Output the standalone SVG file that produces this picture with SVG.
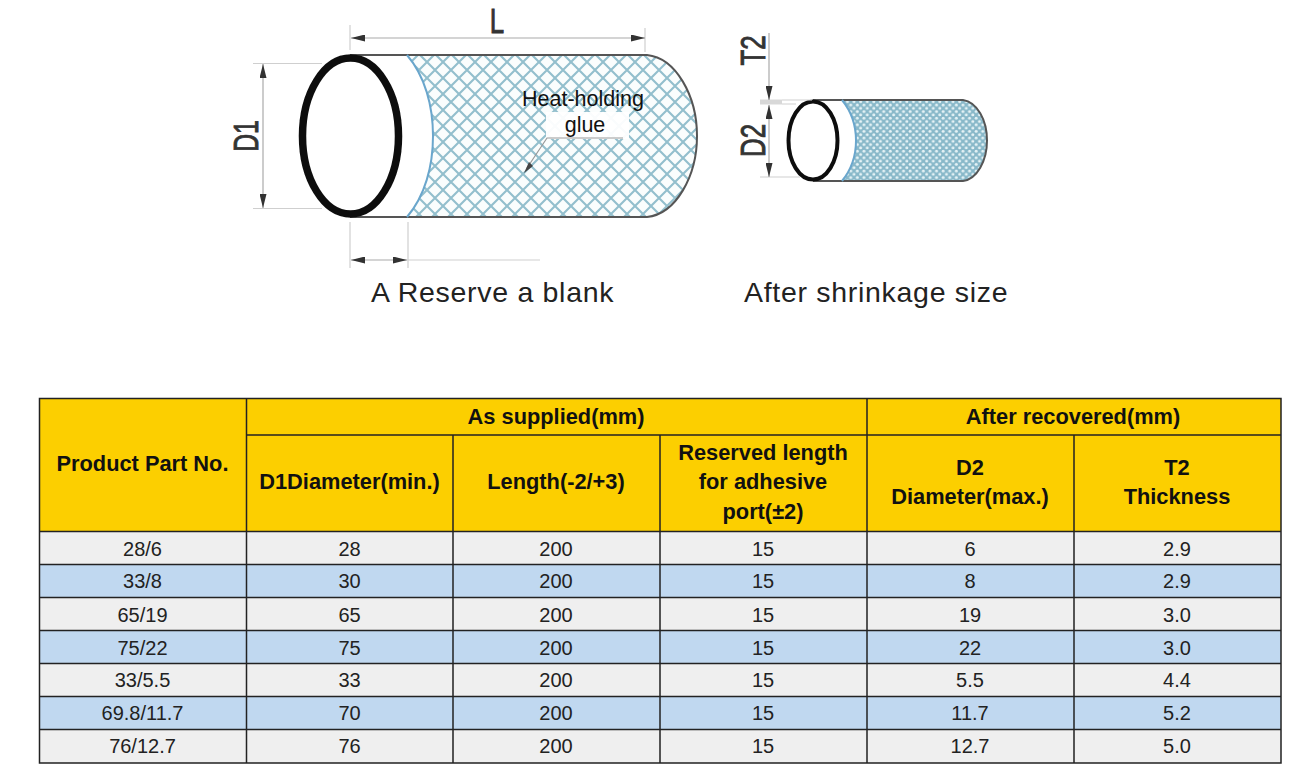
<svg xmlns="http://www.w3.org/2000/svg" width="1293" height="769" viewBox="0 0 1293 769">
<style>
text{font-family:"Liberation Sans",Arial,sans-serif;fill:#111}
.h{font-size:21.8px;font-weight:bold;text-anchor:middle}
.c{font-size:20px;text-anchor:middle;fill:#222}
.cap{font-size:28.5px;letter-spacing:.7px;fill:#222}
.dim{font-size:36px;fill:#333;stroke:#333;stroke-width:.9;text-anchor:middle}
.dl{stroke:#aaa;stroke-width:1.2;fill:none}
.gl{stroke:#cfcfcf;stroke-width:1.2;fill:none}
.y{fill:#fccf00}.g{fill:#efefef}.b{fill:#c0d8f0}
.grid{stroke:#222;stroke-width:1.5;fill:none}
.out{stroke:#555;stroke-width:2;fill:none}
.curve{stroke:#6aa6cc;stroke-width:2;fill:none}
</style>
<defs>
<pattern id="mesh" width="16" height="16" patternUnits="userSpaceOnUse" x="427" y="62">
<rect width="16" height="16" fill="#fafdfd"/>
<path d="M-1 1L1 -1M0 16L16 0M15 17L17 15M-1 15L1 17M0 0L16 16M15 -1L17 1" stroke="#93bfcd" stroke-width="2.100"/>
</pattern>
<pattern id="fine" width="6.600" height="6.600" patternUnits="userSpaceOnUse" x="1" y="1">
<rect width="6.600" height="6.600" fill="#88b8c9"/>
<circle cx="1.650" cy="1.650" r="1.500" fill="#e6f3f6"/>
<circle cx="4.950" cy="4.950" r="1.500" fill="#e6f3f6"/>
</pattern>
<marker id="ah" viewBox="0 0 14 7" refX="14" refY="3.500" markerWidth="14" markerHeight="7" markerUnits="userSpaceOnUse" orient="auto-start-reverse"><path d="M0 0L14 3.500L0 7Z" fill="#333"/></marker>
<filter id="soft" x="-5%" y="-5%" width="110%" height="110%"><feGaussianBlur stdDeviation="0.7"/></filter>
</defs>

<g id="tube-large" filter="url(#soft)">
<path d="M407 55H647C676 58 697 96 697 136C697 176 676 214 647 217H407C425 196 433 166 433 136C433 106 425 76 407 55Z" fill="url(#mesh)"/>
<path class="out" d="M350 55H647C676 58 697 96 697 136C697 176 676 214 647 217H350"/>
<path class="curve" d="M407 55C425 76 433 106 433 136C433 166 425 196 407 217"/>
<ellipse cx="350.500" cy="136" rx="48" ry="78" fill="#fff" stroke="#111" stroke-width="7.500"/>
<g id="dim-large">
<path class="gl" d="M350 25V50M645 28V52M253 63.500H322M253 208.500H322M350 222V268M408 222V268"/>
<path class="dl" d="M351 38H645" marker-start="url(#ah)" marker-end="url(#ah)"/>
<path class="dl" d="M263 64V208" marker-start="url(#ah)" marker-end="url(#ah)"/>
<path class="dl" d="M351 260H407" marker-start="url(#ah)" marker-end="url(#ah)"/>
<path class="gl" d="M407 260H540"/>
</g>
</g>
<text class="dim" transform="translate(497 33) scale(.72 1)">L</text>
<text class="dim" transform="translate(258 136) rotate(-90) scale(.69 1)">D1</text>
<g id="label-glue">
<rect x="546" y="112" width="83" height="27" fill="#fff" opacity=".95"/>
<path d="M623 138H547L527 168" fill="none" stroke="#999" stroke-width="1.200"/>
<path d="M529 162L524 173L533 166Z" fill="#444"/>
<text x="583" y="106" font-size="21.500" text-anchor="middle">Heat-holding</text>
<text x="585" y="132" font-size="21.500" text-anchor="middle">glue</text>
</g>

<g id="tube-small" filter="url(#soft)">
<path d="M842 100H963C977 102 987 120 987 140.500C987 161 977 179 963 181H842C851 170 856 155 856 140.500C856 126 851 111 842 100Z" fill="url(#fine)"/>
<path class="out" d="M813 100H963C977 102 987 120 987 140.500C987 161 977 179 963 181H813"/>
<path class="curve" d="M842 100C851 111 856 126 856 140.500C856 155 851 170 842 181"/>
<ellipse cx="813" cy="140.500" rx="24.500" ry="39" fill="#fff" stroke="#111" stroke-width="4"/>
<g id="dim-small">
<path d="M760 102H782" stroke="#d8d8d8" stroke-width="5" fill="none"/>
<path class="gl" d="M782 100H812M782 104H796M760 177H800"/>
<path class="dl" d="M769 33V100" marker-end="url(#ah)"/>
<path class="dl" d="M769 105V177" marker-start="url(#ah)" marker-end="url(#ah)"/>
</g>
</g>
<text class="dim" transform="translate(765 50.500) rotate(-90) scale(.72 1)">T2</text>
<text class="dim" transform="translate(765 140.500) rotate(-90) scale(.72 1)">D2</text>

<text class="cap" x="371" y="302">A Reserve a blank</text>
<text class="cap" x="744" y="302">After shrinkage size</text>

<g id="table">
<rect class="y" x="39.500" y="398.500" width="1241.500" height="133"/>
<rect class="g" x="39.500" y="531.500" width="1241.500" height="33"/>
<rect class="b" x="39.500" y="564.500" width="1241.500" height="33"/>
<rect class="g" x="39.500" y="597.500" width="1241.500" height="33"/>
<rect class="b" x="39.500" y="630.500" width="1241.500" height="33"/>
<rect class="g" x="39.500" y="663.500" width="1241.500" height="33"/>
<rect class="b" x="39.500" y="696.500" width="1241.500" height="33"/>
<rect class="g" x="39.500" y="729.500" width="1241.500" height="33.500"/>
<path class="grid" d="M39.500 398.500H1281V763H39.500ZM246.500 398.500V763M453 435V763M660 435V763M867 398.500V763M1074 435V763M246.500 435H1281M39.500 531.500H1281M39.500 564.500H1281M39.500 597.500H1281M39.500 630.500H1281M39.500 663.500H1281M39.500 696.500H1281M39.500 729.500H1281"/>
<text class="h" x="142.500" y="470.500">Product Part No.</text>
<text class="h" x="556" y="423.500">As supplied(mm)</text>
<text class="h" x="1073" y="423.500">After recovered(mm)</text>
<text class="h" x="349.500" y="489">D1Diameter(min.)</text>
<text class="h" x="556" y="489">Length(-2/+3)</text>
<text class="h" x="763" y="460">Reserved length</text>
<text class="h" x="763" y="489">for adhesive</text>
<text class="h" x="763" y="519">port(±2)</text>
<text class="h" x="970" y="475">D2</text>
<text class="h" x="970" y="504">Diameter(max.)</text>
<text class="h" x="1177" y="475">T2</text>
<text class="h" x="1177" y="504">Thickness</text>
<g class="row"><text class="c" x="142.500" y="556">28/6</text><text class="c" x="349.500" y="556">28</text><text class="c" x="556" y="556">200</text><text class="c" x="763" y="556">15</text><text class="c" x="970" y="556">6</text><text class="c" x="1177" y="556">2.9</text></g>
<g class="row"><text class="c" x="142.500" y="588">33/8</text><text class="c" x="349.500" y="588">30</text><text class="c" x="556" y="588">200</text><text class="c" x="763" y="588">15</text><text class="c" x="970" y="588">8</text><text class="c" x="1177" y="588">2.9</text></g>
<g class="row"><text class="c" x="142.500" y="622">65/19</text><text class="c" x="349.500" y="622">65</text><text class="c" x="556" y="622">200</text><text class="c" x="763" y="622">15</text><text class="c" x="970" y="622">19</text><text class="c" x="1177" y="622">3.0</text></g>
<g class="row"><text class="c" x="142.500" y="655">75/22</text><text class="c" x="349.500" y="655">75</text><text class="c" x="556" y="655">200</text><text class="c" x="763" y="655">15</text><text class="c" x="970" y="655">22</text><text class="c" x="1177" y="655">3.0</text></g>
<g class="row"><text class="c" x="142.500" y="687">33/5.5</text><text class="c" x="349.500" y="687">33</text><text class="c" x="556" y="687">200</text><text class="c" x="763" y="687">15</text><text class="c" x="970" y="687">5.5</text><text class="c" x="1177" y="687">4.4</text></g>
<g class="row"><text class="c" x="142.500" y="720">69.8/11.7</text><text class="c" x="349.500" y="720">70</text><text class="c" x="556" y="720">200</text><text class="c" x="763" y="720">15</text><text class="c" x="970" y="720">11.7</text><text class="c" x="1177" y="720">5.2</text></g>
<g class="row"><text class="c" x="142.500" y="753">76/12.7</text><text class="c" x="349.500" y="753">76</text><text class="c" x="556" y="753">200</text><text class="c" x="763" y="753">15</text><text class="c" x="970" y="753">12.7</text><text class="c" x="1177" y="753">5.0</text></g>
</g>
</svg>
